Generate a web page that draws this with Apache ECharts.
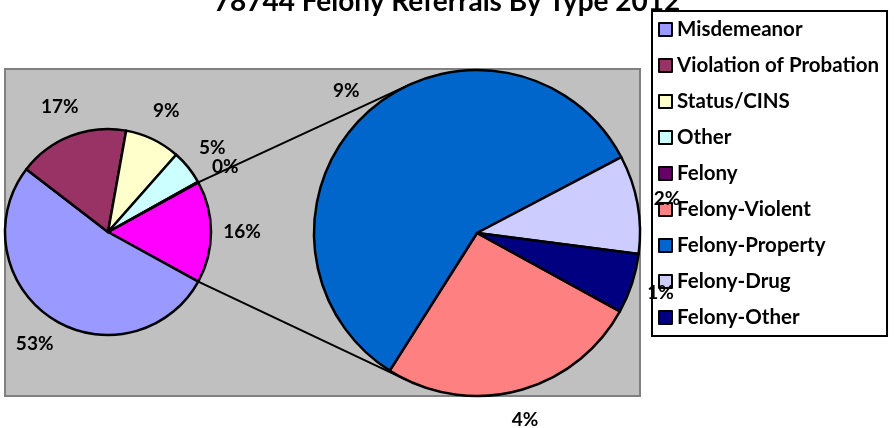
<!DOCTYPE html>
<html lang="en">
<head>
    <meta charset="UTF-8">
    <title>78744 Felony Referrals By Type 2012</title>
    <script src="https://cdn.jsdelivr.net/npm/echarts@6/dist/echarts.min.js"></script>
    <style>
        html, body { margin: 0; padding: 0; background: #fff; }
    </style>
</head>
<body>
<div id="main" style="width: 894px;height:428px;"></div>
<script type="text/javascript">
    // values are % of all referrals
    var mainNames = ['Felony (all)', 'Misdemeanor', 'Violation of Probation', 'Status/CINS', 'Other', 'Felony'];
    var mainValues = [16.0, 52.5, 17.4, 8.7, 5.4, 0.1];
    var mainColors = ['#FF00FF', '#9999FF', '#993366', '#FFFFCC', '#CCFFFF', '#660066'];

    var subNames = ['Felony-Violent', 'Felony-Property', 'Felony-Drug', 'Felony-Other'];
    var subValues = [4.16, 9.33, 1.56, 0.95];
    var subColors = ['#FF8080', '#0066CC', '#CCCCFF', '#000080'];

    var legendNames = ['Misdemeanor', 'Violation of Probation', 'Status/CINS', 'Other', 'Felony',
        'Felony-Violent', 'Felony-Property', 'Felony-Drug', 'Felony-Other'];

    var FONT = 'Lato, "Open Sans", sans-serif';
    var leftC = [108, 232], leftR = 103;
    var rightC = [477, 233], rightR = 163;

    function toData(names, values, colors) {
        return names.map(function (n, i) {
            return {name: n, value: values[i], itemStyle: {color: colors[i]}};
        });
    }

    var total = mainValues.reduce(function (a, b) { return a + b; }, 0);
    var half = mainValues[0] / total * 360 / 2;

    // connector lines: from split slice edges to the tangent points on the second pie
    function tangent(p, upper) {
        var vx = p[0] - rightC[0], vy = p[1] - rightC[1];
        var d = Math.sqrt(vx * vx + vy * vy);
        var a = Math.atan2(vy, vx), b = Math.acos(rightR / d);
        var c1 = [rightC[0] + rightR * Math.cos(a + b), rightC[1] + rightR * Math.sin(a + b)];
        var c2 = [rightC[0] + rightR * Math.cos(a - b), rightC[1] + rightR * Math.sin(a - b)];
        if (upper) return c1[1] < c2[1] ? c1 : c2;
        return c1[1] > c2[1] ? c1 : c2;
    }
    var rad = half * Math.PI / 180;
    var pTop = [leftC[0] + leftR * Math.cos(rad), leftC[1] - leftR * Math.sin(rad)];
    var pBot = [leftC[0] + leftR * Math.cos(rad), leftC[1] + leftR * Math.sin(rad)];
    var tTop = tangent(pTop, true), tBot = tangent(pBot, false);

    var pctLabel = {
        show: true,
        position: 'inside',
        formatter: function (p) { return Math.round(p.value) + '%'; },
        color: '#000',
        fontFamily: FONT,
        fontWeight: 'bold',
        fontSize: 19
    };

    var myChart = echarts.init(document.getElementById('main'));
    var option = {
        animation: false,
        title: {
            text: '78744 Felony Referrals By Type 2012',
            left: 'center',
            top: -12,
            padding: 0,
            textStyle: {fontFamily: FONT, fontWeight: 'bold', fontSize: 28, color: '#000'}
        },
        legend: {
            data: legendNames,
            orient: 'vertical',
            left: 652,
            top: 11,
            padding: [8, 8, 8, 6],
            itemGap: 15,
            itemWidth: 13,
            itemHeight: 13,
            icon: 'rect',
            backgroundColor: '#fff',
            borderColor: '#000',
            borderWidth: 2,
            borderRadius: 0,
            itemStyle: {borderColor: '#000', borderWidth: 2},
            textStyle: {fontFamily: FONT, fontWeight: 'bold', fontSize: 20.5, lineHeight: 21, color: '#000'}
        },
        graphic: [
            {
                type: 'rect', z: -10,
                shape: {x: 5, y: 69, width: 635, height: 327},
                style: {fill: '#C0C0C0', stroke: '#808080', lineWidth: 2}
            },
            {
                type: 'line', z: 1,
                shape: {x1: pTop[0], y1: pTop[1], x2: tTop[0], y2: tTop[1]},
                style: {stroke: '#000', lineWidth: 2}
            },
            {
                type: 'line', z: 1,
                shape: {x1: pBot[0], y1: pBot[1], x2: tBot[0], y2: tBot[1]},
                style: {stroke: '#000', lineWidth: 2}
            }
        ],
        series: [
            {
                type: 'pie', name: 'main', silent: true,
                center: leftC, radius: leftR,
                startAngle: half, clockwise: true,
                label: {show: false}, labelLine: {show: false},
                itemStyle: {borderColor: '#000', borderWidth: 2.5},
                data: toData(mainNames, mainValues, mainColors)
            },
            {
                type: 'pie', name: 'sub', silent: true,
                center: rightC, radius: rightR,
                startAngle: 360 - half, clockwise: true,
                label: {show: false}, labelLine: {show: false},
                itemStyle: {borderColor: '#000', borderWidth: 2.5},
                data: toData(subNames, subValues, subColors)
            },
            {
                type: 'pie', name: 'mainLabels', silent: true, z: 6,
                center: leftC, radius: [leftR + 15, leftR + 41],
                startAngle: half, clockwise: true,
                label: pctLabel, labelLine: {show: false},
                itemStyle: {color: 'rgba(0,0,0,0)', borderWidth: 0},
                data: mainNames.map(function (n, i) { return {name: n, value: mainValues[i]}; })
            },
            {
                type: 'pie', name: 'subLabels', silent: true, z: 6,
                center: rightC, radius: [rightR + 14, rightR + 40],
                startAngle: 360 - half, clockwise: true,
                label: pctLabel, labelLine: {show: false},
                itemStyle: {color: 'rgba(0,0,0,0)', borderWidth: 0},
                data: subNames.map(function (n, i) { return {name: n, value: subValues[i]}; })
            }
        ]
    };
    myChart.setOption(option);
</script>
</body>
</html>
